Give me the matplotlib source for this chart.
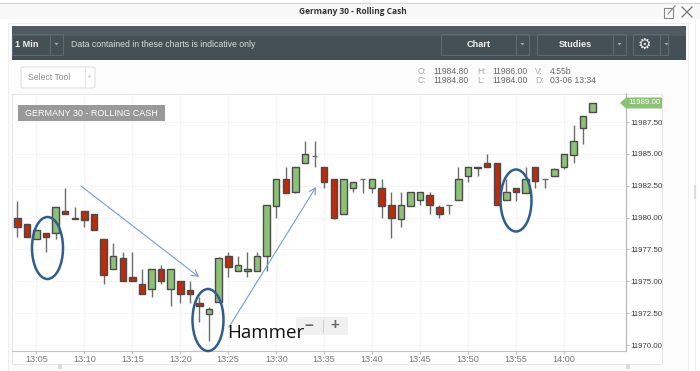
import matplotlib
matplotlib.use("Agg")
import matplotlib.pyplot as plt
from matplotlib.patches import Ellipse, Rectangle, Polygon, FancyBboxPatch

plt.rcParams['font.family'] = ['Liberation Sans', 'DejaVu Sans']

# candle data: minutes after 13:00, prices are 11900 + value
minutes = list(range(3, 64))
opens = [80.0,79.5,78.3,78.8,78.8,80.5,80.0,80.5,80.3,78.3,76.0,76.8,75.3,74.8,74.4,76.0,74.4,75.0,74.3,73.3,
         72.4,73.4,77.0,75.8,75.8,75.8,77.0,80.9,83.0,82.0,84.3,84.8,84.0,83.0,80.3,82.3,83.0,82.3,82.3,81.0,
         79.9,80.9,81.4,81.8,80.8,81.0,81.4,83.3,83.9,84.3,84.3,81.4,82.3,81.9,84.0,83.0,83.3,84.0,84.9,87.0,88.3]
closes = [79.3,78.5,79.0,78.5,80.8,80.3,79.9,79.8,79.0,75.5,77.0,75.0,75.0,74.0,76.0,75.0,76.0,74.0,74.0,73.1,
          72.8,76.8,76.1,76.3,76.0,77.0,81.0,83.0,81.9,84.0,85.0,84.8,82.8,80.0,83.0,82.8,83.0,83.0,80.9,80.0,
          81.0,82.0,82.0,81.0,80.3,81.0,83.0,84.0,84.0,84.0,81.0,82.0,82.0,83.0,82.9,83.0,83.8,85.0,86.0,88.0,89.0]
highs = [81.3,79.5,79.0,78.8,80.8,82.3,80.8,80.5,80.3,78.3,78.0,77.3,77.3,76.0,76.0,76.3,76.0,75.0,75.0,73.8,
         73.0,76.9,77.3,77.0,77.3,77.3,81.0,83.0,84.0,84.0,86.0,86.0,84.0,83.0,83.0,82.8,83.0,83.0,83.0,82.0,
         82.0,82.0,82.0,82.0,81.0,81.0,84.0,84.0,84.0,85.0,84.3,83.0,82.3,84.0,84.0,83.0,83.9,85.0,87.3,88.0,89.0]
lows = [78.5,78.5,78.3,77.3,78.3,80.3,79.9,79.3,79.0,74.8,76.0,75.0,75.0,74.0,73.8,74.8,73.1,73.3,73.3,71.8,
        70.3,73.4,75.3,75.8,75.3,75.8,75.8,80.0,81.9,81.9,84.3,84.0,82.3,79.9,80.3,82.0,81.9,81.9,80.0,78.4,
        79.3,80.9,81.0,80.3,80.0,80.3,81.4,82.8,83.3,84.0,81.0,81.4,81.3,81.9,82.3,82.3,83.3,83.8,84.3,85.8,88.3]
time_labels = ["13:05","13:10","13:15","13:20","13:25","13:30","13:35","13:40","13:45","13:50","13:55","14:00"]
time_ticks = [5,10,15,20,25,30,35,40,45,50,55,60]
price_ticks = [11970.0,11972.5,11975.0,11977.5,11980.0,11982.5,11985.0,11987.5]
last_price = 11989.00

W, H = 700, 371
fig = plt.figure(figsize=(W/100, H/100), dpi=100, facecolor='#ffffff')

# chrome layer in pixel coordinates
bg = fig.add_axes([0, 0, 1, 1], zorder=0)
bg.set_xlim(0, W); bg.set_ylim(H, 0); bg.axis('off')
bg.add_patch(Rectangle((0, 2), 700, 17, fc='#f8f8f8', ec='none'))
bg.plot([0, 700], [2.5, 2.5], color='#d8d8d8', lw=0.8)
bg.add_patch(Rectangle((8, 23), 680, 348, fc='#fcfcfc', ec='#eeeeee', lw=0.8))
bg.plot([695, 695], [20, 371], color='#efefef', lw=0.8)
bg.plot([695, 695], [186, 198], color='#dddddd', lw=1.6)
bg.add_patch(Rectangle((12, 26), 674, 34, fc='#454f56', ec='none'))
bg.add_patch(Rectangle((12, 26), 674, 10, fc='#59636a', ec='none', alpha=0.6))
bg.add_patch(Rectangle((12, 94), 650, 270, fc='#ffffff', ec='#e6e6e6', lw=0.8))
for hx in [60, 628]:
    bg.add_patch(Rectangle((hx-2, 364), 4, 5, fc='#dddddd', ec='none'))
bg.text(353, 11.5, "Germany 30 - Rolling Cash", ha='center', va='center', fontsize=6.0,
        fontweight='bold', color='#333333', family=['Open Sans', 'DejaVu Sans'])
bg.text(27, 44.5, "1 Min", ha='center', va='center', fontsize=6.6, fontweight='bold', color='#f2f2f2')
bg.text(71, 44.5, "Data contained in these charts is indicative only", ha='left', va='center',
        fontsize=6.3, color='#d8dcde')
for x0, x1, sep, lab in [(12, 63, 50, None), (441, 529, 516, "Chart"), (537, 626, 613, "Studies"), (633, 668, 660, None)]:
    bg.add_patch(Rectangle((x0, 34), x1-x0, 21, fc='none', ec='#5e686f', lw=0.8))
    bg.plot([sep, sep], [34, 55], color='#5e686f', lw=0.8)
    bg.add_patch(Polygon([[sep+4.5, 43], [sep+8.5, 43], [sep+6.5, 45.5]], fc='#a4abb0', ec='none'))
    if lab:
        bg.text((x0+sep)/2, 44.5, lab, ha='center', va='center', fontsize=6.6, fontweight='bold', color='#f2f2f2')
bg.text(644.5, 44, "\u2699", ha='center', va='center', fontsize=11, color='#e8e8e8', family='DejaVu Sans')
bg.add_patch(FancyBboxPatch((21, 67), 74, 21, boxstyle='round,pad=0,rounding_size=2', fc='#ffffff', ec='#e0e0e0', lw=0.8))
bg.plot([85, 85], [67, 88], color='#e6e6e6', lw=0.8)
bg.add_patch(Polygon([[87.5, 75.5], [91.5, 75.5], [89.5, 78]], fc='#cccccc', ec='none'))
bg.text(28, 77.5, "Select Tool", ha='left', va='center', fontsize=6.2, color='#8a8a8a')
ohlc = [(418, 71.5, "O:", '#aaaaaa'), (433, 71.5, "11984.80", '#666666'), (477, 71.5, "H:", '#aaaaaa'),
        (492, 71.5, "11986.00", '#666666'), (535, 71.5, "V:", '#aaaaaa'), (550, 71.5, "4.55b", '#666666'),
        (418, 80.5, "C:", '#aaaaaa'), (433, 80.5, "11984.80", '#666666'), (477, 80.5, "L:", '#aaaaaa'),
        (492, 80.5, "11984.00", '#666666'), (535, 80.5, "D:", '#aaaaaa'), (550, 80.5, "03-06 13:34", '#666666')]
for x, y, s, c in ohlc:
    bg.text(x, y, s, ha='left', va='center', fontsize=6.2, color=c)
bg.add_patch(Rectangle((664, 8), 9, 10, fc='none', ec='#888888', lw=0.8))
bg.plot([668, 675], [14, 6], color='#888888', lw=0.8)
bg.plot([682, 692], [7, 17], color='#777777', lw=0.9)
bg.plot([682, 692], [17, 7], color='#777777', lw=0.9)

# price chart
L, R, T, B = 12, 625.7, 93, 350.5
ax = fig.add_axes([L/W, 1-B/H, (R-L)/W, (B-T)/H], zorder=1)
ax.patch.set_alpha(0)
ax.set_xlim(2.45, 66.44)
ax.set_ylim(11969.57, 11989.78)
for s in ['top', 'left']:
    ax.spines[s].set_visible(False)
ax.spines['right'].set_color('#b5b5b5')
ax.spines['bottom'].set_color('#c4c4c4')
ax.yaxis.tick_right()
ax.set_xticks(time_ticks, time_labels)
ax.set_yticks(price_ticks, [f"{v:.2f}" for v in price_ticks])
ax.tick_params(axis='x', length=2, width=0.7, color='#bbbbbb', labelcolor='#777777', labelsize=6.6, pad=1.2)
ax.tick_params(axis='y', length=2.5, width=0.7, color='#bbbbbb', labelcolor='#3c3c3c', labelsize=5.7, pad=1)
ax.grid(True, color='#f5f5f5', lw=0.8)
ax.set_axisbelow(True)
for m, o, c, h, l in zip(minutes, opens, closes, highs, lows):
    ax.vlines(m, 11900+l, 11900+h, color='#6b6b6b', lw=1.0, zorder=2)
    up = c >= o
    lo, hi = min(o, c), max(o, c)
    if hi - lo < 0.06:
        ax.hlines(11900+c, m-0.3, m+0.3, color='#6b6b6b', lw=1.0, zorder=3)
    else:
        ax.bar(m, hi-lo, bottom=11900+lo, width=0.68, color='#8cc176' if up else '#b92c0c',
               edgecolor='#4a4a4a', lw=1.0, zorder=3)

# overlay layer: price flag, annotations
top = fig.add_axes([0, 0, 1, 1], zorder=2)
top.set_xlim(0, W); top.set_ylim(H, 0); top.axis('off'); top.patch.set_alpha(0)
top.add_patch(Polygon([[620, 103], [626, 97.5], [662, 97.5], [662, 108.5], [626, 108.5]], fc='#8cc176', ec='none'))
top.text(644.5, 103, f"{last_price:.2f}", ha='center', va='center', fontsize=5.7, color='#ffffff')
top.add_patch(Rectangle((18, 105), 147, 16, fc='#999999', ec='none'))
top.text(91.5, 113, "GERMANY 30 - ROLLING CASH", ha='center', va='center', fontsize=6.5, color='#ffffff')
for cx, cy in [(47.5, 248), (208, 320), (516, 200.5)]:
    top.add_patch(Ellipse((cx, cy), 31, 62, fc='none', ec='#2f5d8f', lw=1.8))
for p0, p1 in [((81, 186), (199, 277)), ((229, 327), (316, 187))]:
    top.annotate("", xy=p1, xytext=p0, arrowprops=dict(arrowstyle='->,head_length=0.45,head_width=0.25',
                 color='#6f9ed6', lw=0.8, shrinkA=0, shrinkB=0))
top.add_patch(FancyBboxPatch((296, 317), 52, 18, boxstyle='round,pad=0,rounding_size=2', fc='#f0f0f0', ec='none', zorder=1))
top.plot([323, 323], [320, 332], color='#cfcfcf', lw=0.8, zorder=2)
top.text(309, 325.5, "\u2212", ha='center', va='center', fontsize=11, fontweight='bold', color='#666666', zorder=2)
top.text(335, 325.5, "+", ha='center', va='center', fontsize=11, fontweight='bold', color='#666666', zorder=2)
top.text(227, 333, "Hammer", ha='left', va='center', fontsize=13.5, color='#111111', zorder=3,
         family=['Open Sans', 'DejaVu Sans'])

fig.savefig("out.png", dpi=100, facecolor=fig.get_facecolor())
